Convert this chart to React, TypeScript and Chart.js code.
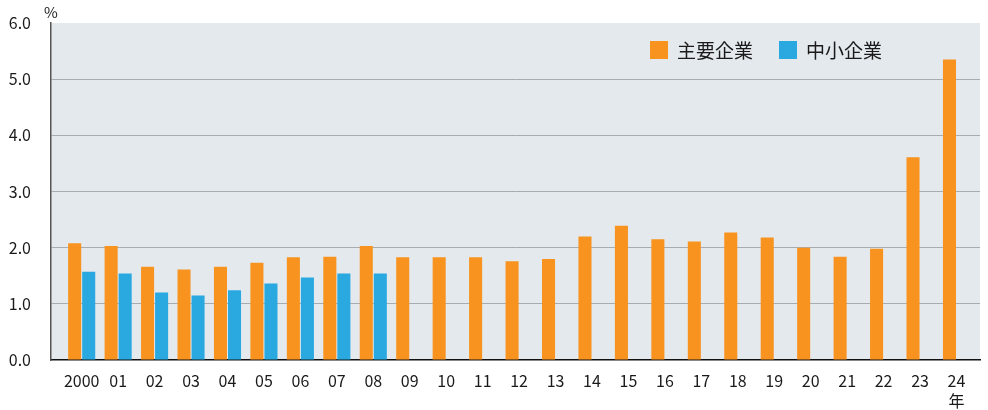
import { useEffect, useRef } from 'react';
import { Chart, registerables } from 'chart.js';

Chart.register(...registerables);

const FONT = '"Noto Sans CJK JP", "Noto Sans", sans-serif';

const categories = ['2000', '01', '02', '03', '04', '05', '06', '07', '08', '09', '10', '11', '12', '13', '14', '15', '16', '17', '18', '19', '20', '21', '22', '23', '24'];
const majorValues = [2.08, 2.03, 1.66, 1.61, 1.66, 1.73, 1.83, 1.84, 2.03, 1.83, 1.83, 1.83, 1.76, 1.80, 2.20, 2.39, 2.15, 2.11, 2.27, 2.18, 2.00, 1.84, 1.98, 3.61, 5.35];
const smeValues: (number | null)[] = [1.57, 1.54, 1.20, 1.15, 1.24, 1.36, 1.47, 1.54, 1.54];
const yTicks = [0, 1, 2, 3, 4, 5, 6];
const seriesNames = ['主要企業', '中小企業'];
const seriesColors = ['#F7931E', '#29A9E0'];
const yUnit = '%';
const yearSuffix = '年';

export default function App() {
  const ref = useRef<HTMLCanvasElement>(null);

  useEffect(() => {
    if (!ref.current) return;

    const bgPlugin = {
      id: 'bgPlugin',
      beforeDraw(chart: any) {
        const { ctx, chartArea: a } = chart;
        ctx.save();
        ctx.fillStyle = '#E4E9EE';
        ctx.fillRect(a.left, a.top, a.right - a.left, a.bottom - a.top);
        ctx.restore();
      },
    };

    const overlayPlugin = {
      id: 'overlayPlugin',
      afterDraw(chart: any) {
        const { ctx, chartArea: a } = chart;
        ctx.save();
        ctx.fillStyle = '#1a1a1a';
        ctx.font = `15px ${FONT}`;
        ctx.textAlign = 'center';
        ctx.textBaseline = 'middle';
        ctx.fillText(yUnit, a.left, 12);

        // legend
        const items = chart.data.datasets;
        let x = 650;
        const y = 41;
        const size = 18;
        ctx.font = `19px ${FONT}`;
        ctx.textAlign = 'left';
        items.forEach((ds: any) => {
          ctx.fillStyle = ds.backgroundColor;
          ctx.fillRect(x, y, size, size);
          ctx.fillStyle = '#1a1a1a';
          ctx.fillText(ds.label, x + 27, y + size / 2 + 1);
          const w = ctx.measureText(ds.label).width;
          x += 27 + w + 26;
        });
        ctx.restore();
      },
    };

    const chart = new Chart(ref.current, {
      type: 'bar',
      data: {
        datasets: [
          {
            label: seriesNames[0],
            data: majorValues.map((v, i) => ({ x: i, y: v })),
            backgroundColor: seriesColors[0],
            barPercentage: 0.93,
            categoryPercentage: 0.77,
          },
          {
            label: seriesNames[1],
            data: categories.map((_, i) => ({ x: i, y: i < smeValues.length ? smeValues[i] : null })),
            backgroundColor: seriesColors[1],
            barPercentage: 0.93,
            categoryPercentage: 0.77,
          },
        ],
      },
      options: {
        animation: false,
        responsive: true,
        maintainAspectRatio: false,
        layout: { padding: { top: 23, right: 8, left: 0, bottom: 0 } },
        plugins: {
          legend: { display: false },
          tooltip: { enabled: false },
        },
        scales: {
          x: {
            type: 'linear',
            offset: false,
            min: -0.842,
            max: 24.645,
            afterFit(scale: any) {
              scale.height = 50;
            },
            afterBuildTicks(scale: any) {
              scale.ticks = categories.map((_, i) => ({ value: i }));
            },
            grid: { display: false, drawTicks: false, offset: false },
            border: { display: true, color: '#111', width: 1.5 },
            ticks: {
              autoSkip: false,
              maxRotation: 0,
              padding: 11,
              color: '#1a1a1a',
              font: { family: FONT, size: 16, lineHeight: 1.25 },
              callback: (value: any) => {
                const i = Math.round(Number(value));
                if (i === categories.length - 1) return [categories[i], yearSuffix];
                return categories[i];
              },
            },
          },
          y: {
            min: yTicks[0],
            max: yTicks[yTicks.length - 1],
            afterFit(scale: any) {
              scale.width = 51;
              scale.paddingTop = 0;
              scale.paddingBottom = 0;
            },
            afterBuildTicks(scale: any) {
              scale.ticks = yTicks.map((v) => ({ value: v }));
            },
            grid: {
              drawTicks: false,
              color: (c: any) => (c.tick && (c.tick.value === 0 || c.tick.value === 6) ? 'rgba(0,0,0,0)' : '#A8ACB0'),
              lineWidth: 1,
            },
            border: { display: true, color: '#555', width: 1.5 },
            ticks: {
              padding: 20,
              color: '#1a1a1a',
              font: { family: FONT, size: 16 },
              callback: (value: any) => Number(value).toFixed(1),
            },
          },
        },
      },
      plugins: [bgPlugin, overlayPlugin],
    } as any);

    return () => chart.destroy();
  }, []);

  return (
    <div style={{ position: 'absolute', left: 0, top: 0, width: 988, height: 410 }}>
      <canvas ref={ref} />
    </div>
  );
}
